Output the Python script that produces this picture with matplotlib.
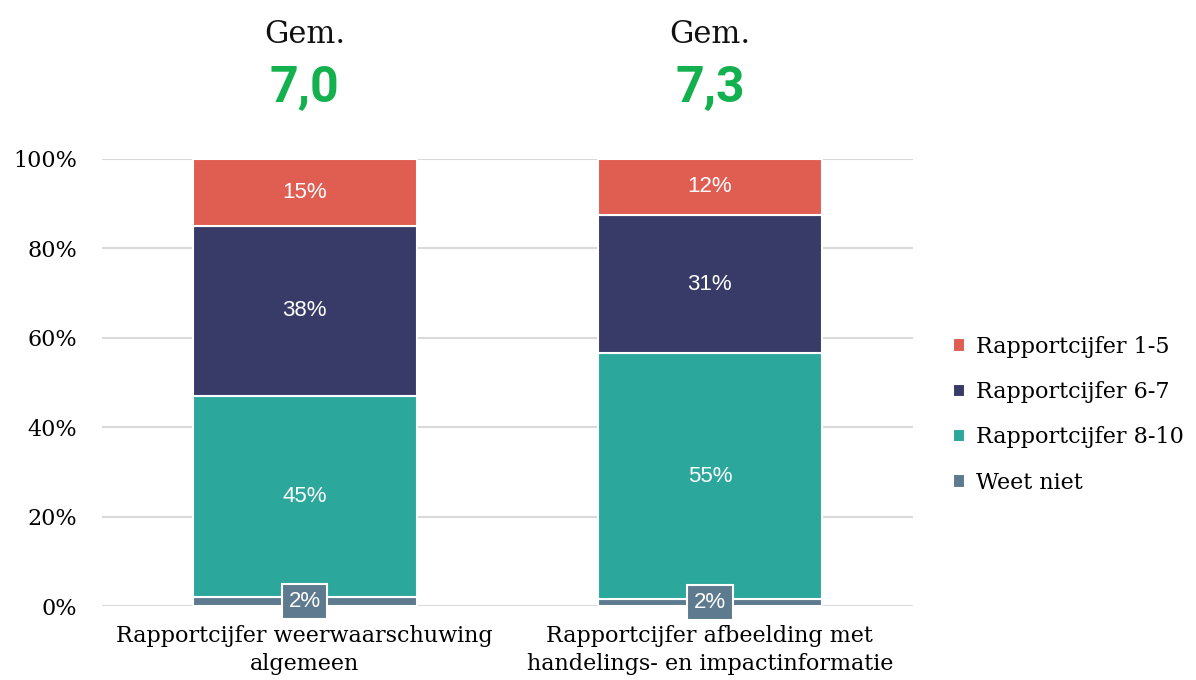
import numpy as np
import matplotlib.pyplot as plt

categories = ["Rapportcijfer weerwaarschuwing\nalgemeen",
              "Rapportcijfer afbeelding met\nhandelings- en impactinformatie"]
averages = ["7,0", "7,3"]
series = ["Weet niet", "Rapportcijfer 8-10", "Rapportcijfer 6-7", "Rapportcijfer 1-5"]
weet_niet = [2, 1.5]
cijfer_8_10 = [45, 55]
cijfer_6_7 = [38, 31]
cijfer_1_5 = [15, 12.5]
labels = [["2%", "45%", "38%", "15%"], ["2%", "55%", "31%", "12%"]]
colors = ["#5d7a8e", "#2ba79c", "#383b68", "#e05d52"]

serif = "DejaVu Serif"
sans = "Liberation Sans"

fig = plt.figure(figsize=(11.96, 6.8), dpi=100)
ax = fig.add_axes([0.0853, 0.1088, 0.6777, 0.6574])

x = np.arange(len(categories))
values = [weet_niet, cijfer_8_10, cijfer_6_7, cijfer_1_5]
bottom = np.zeros(len(categories))
for i, (name, vals) in enumerate(zip(series, values)):
    vals = np.array(vals, dtype=float)
    ax.bar(x, vals, 0.553, bottom=bottom, color=colors[i], edgecolor="white",
           linewidth=1.5, label=name, zorder=3)
    for j in range(len(x)):
        yc = bottom[j] + vals[j] / 2
        if i == 0:
            ax.text(x[j], yc, labels[j][i], ha="center", va="center", color="white",
                    fontsize=16, family=sans, zorder=5,
                    bbox=dict(boxstyle="square,pad=0.3", fc=colors[0], ec="white", lw=1.5))
        else:
            ax.text(x[j], yc, labels[j][i], ha="center", va="center", color="white",
                    fontsize=16, family=sans, zorder=5)
    bottom += vals

ax.set_xlim(-0.5, 1.5)
ax.set_ylim(0, 100)
ax.set_yticks(np.arange(0, 101, 20))
ax.set_yticklabels([f"{v}%" for v in range(0, 101, 20)], family=serif, fontsize=16)
ax.set_xticks(x)
ax.set_xticklabels(categories, family=serif, fontsize=16, linespacing=1.35)
ax.tick_params(axis="y", length=0, pad=18)
ax.tick_params(axis="x", length=0, pad=14)
ax.grid(axis="y", color="#d9d9d9", linewidth=1.5, zorder=0)
for s in ax.spines.values():
    s.set_visible(False)

for j in range(len(x)):
    ax.text(x[j], 1.26, "Gem.", transform=ax.get_xaxis_transform(), ha="center",
            va="baseline", fontsize=22, family=serif, color="#111111")
    ax.text(x[j], 1.127, averages[j], transform=ax.get_xaxis_transform(), ha="center",
            va="baseline", fontsize=36, family="Roboto", fontweight="bold", color="#13b04e")

handles, lbls = ax.get_legend_handles_labels()
leg = fig.legend(handles[::-1], lbls[::-1], loc="center left", bbox_to_anchor=(0.78, 0.39),
                 frameon=False, prop={"family": serif, "size": 16}, handlelength=0.55,
                 handleheight=0.55, handletextpad=0.5, labelspacing=1.05)

fig.savefig("out.png", dpi=100)
